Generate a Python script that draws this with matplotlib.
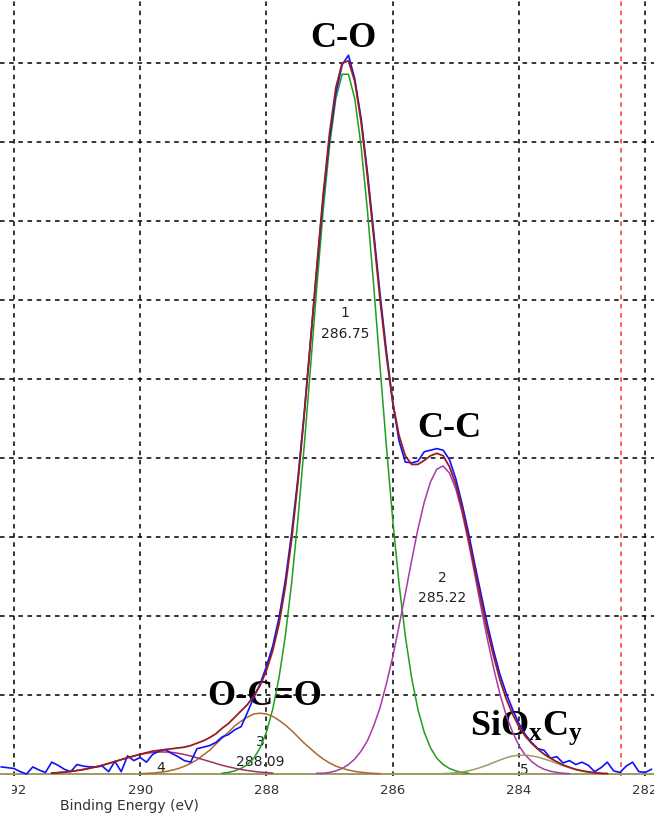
import numpy as np
import matplotlib
matplotlib.use('Agg')
import matplotlib.pyplot as plt
from matplotlib.transforms import Bbox

plt.rcParams['mathtext.default'] = 'regular'

# XPS C1s spectrum, binding energy step 0.1 eV, intensity in grid units
step = 0.1

raw_start = 292.2
raw = [0.09, 0.08, 0.07, 0.03, 0.00, 0.09, 0.05, 0.02, 0.15, 0.11,
       0.06, 0.03, 0.12, 0.10, 0.09, 0.09, 0.10, 0.03, 0.16, 0.03,
       0.23, 0.17, 0.21, 0.15, 0.25, 0.29, 0.31, 0.26, 0.22, 0.17,
       0.15, 0.32, 0.34, 0.36, 0.40, 0.47, 0.50, 0.56, 0.60, 0.78,
       0.97, 1.14, 1.36, 1.62, 1.98, 2.45, 3.05, 3.75, 4.58, 5.50,
       6.40, 7.30, 8.05, 8.62, 8.98, 9.10, 8.80, 8.30, 7.62, 6.86,
       6.08, 5.36, 4.72, 4.22, 3.95, 3.94, 3.96, 4.08, 4.10, 4.12,
       4.10, 3.98, 3.74, 3.42, 3.06, 2.66, 2.28, 1.90, 1.56, 1.26,
       1.02, 0.82, 0.64, 0.50, 0.40, 0.32, 0.30, 0.20, 0.22, 0.14,
       0.17, 0.12, 0.15, 0.11, 0.03, 0.08, 0.15, 0.04, 0.02, 0.10,
       0.15, 0.03, 0.02, 0.06]

env_start = 291.4
envelope = [0.012, 0.017, 0.024, 0.033, 0.044, 0.057, 0.073, 0.091, 0.11, 0.134,
            0.158, 0.182, 0.206, 0.228, 0.25, 0.27, 0.29, 0.30, 0.31, 0.32,
            0.33, 0.34, 0.36, 0.39, 0.42, 0.46, 0.51, 0.58, 0.64, 0.72,
            0.80, 0.88, 0.99, 1.12, 1.31, 1.56, 1.90, 2.37, 2.97, 3.70,
            4.55, 5.48, 6.44, 7.34, 8.11, 8.69, 9.00, 9.03, 8.77, 8.26,
            7.57, 6.80, 6.01, 5.30, 4.71, 4.29, 4.03, 3.92, 3.92, 3.97,
            4.03, 4.06, 4.03, 3.89, 3.67, 3.36, 2.99, 2.59, 2.20, 1.82,
            1.49, 1.19, 0.95, 0.76, 0.60, 0.48, 0.39, 0.315, 0.25, 0.20,
            0.155, 0.115, 0.085, 0.058, 0.04, 0.026, 0.016, 0.009, 0.005]

# fitted components: (start energy, values)
p1_start = 288.7
p1 = [0.01, 0.02, 0.04, 0.07, 0.12, 0.20, 0.33, 0.53, 0.82, 1.22,
      1.75, 2.42, 3.23, 4.16, 5.16, 6.18, 7.14, 7.95, 8.55, 8.86,
      8.86, 8.55, 7.95, 7.14, 6.18, 5.16, 4.16, 3.23, 2.42, 1.75,
      1.22, 0.82, 0.53, 0.33, 0.20, 0.12, 0.07, 0.04, 0.02, 0.01]
p2_start = 287.2
p2 = [0.01, 0.01, 0.02, 0.04, 0.07, 0.12, 0.19, 0.29, 0.42, 0.61,
      0.84, 1.14, 1.48, 1.87, 2.28, 2.70, 3.10, 3.44, 3.70, 3.86,
      3.90, 3.81, 3.61, 3.31, 2.94, 2.53, 2.11, 1.71, 1.34, 1.01,
      0.74, 0.53, 0.36, 0.24, 0.16, 0.10, 0.06, 0.035, 0.02, 0.01, 0.005]
p3_start = 290.0
p3 = [0.004, 0.008, 0.012, 0.02, 0.031, 0.047, 0.068, 0.097, 0.135, 0.18,
      0.24, 0.30, 0.38, 0.455, 0.53, 0.61, 0.67, 0.72, 0.76, 0.77,
      0.76, 0.73, 0.68, 0.62, 0.55, 0.47, 0.39, 0.32, 0.25, 0.19,
      0.14, 0.10, 0.073, 0.05, 0.033, 0.022, 0.014, 0.008, 0.005]
p4_start = 291.4
p4 = [0.012, 0.017, 0.024, 0.033, 0.044, 0.057, 0.073, 0.091, 0.11, 0.134,
      0.158, 0.182, 0.206, 0.228, 0.247, 0.263, 0.274, 0.279, 0.279, 0.274,
      0.263, 0.247, 0.228, 0.206, 0.182, 0.158, 0.134, 0.11, 0.091, 0.073,
      0.057, 0.044, 0.033, 0.024, 0.017, 0.012]
p5_start = 285.2
p5 = [0.005, 0.009, 0.016, 0.026, 0.04, 0.06, 0.085, 0.114, 0.146, 0.177,
      0.206, 0.227, 0.239, 0.239, 0.23, 0.215, 0.19, 0.165, 0.135, 0.105,
      0.08, 0.058, 0.04, 0.026, 0.016, 0.009, 0.005]

peak_ids = ['1', '2', '3', '4', '5']
peak_pos = [286.75, 285.22, 288.09, 289.68, 283.92]
peak_names = ['286.75', '285.22', '288.09', '', '']

xticks = [292, 290, 288, 286, 284, 282]
marker_line = 282.38


def energies(start, vals):
    return start - step * np.arange(len(vals))


fig = plt.figure(figsize=(6.54, 8.19), dpi=100)
ax = fig.add_axes([0, 0.053, 1, 0.947])

comp_colors = ['#1e9e1e', '#a83aa8', '#a8682e', '#a0306a', '#9c9c60']
for start, vals, c in zip([p1_start, p2_start, p3_start, p4_start, p5_start],
                          [p1, p2, p3, p4, p5], comp_colors):
    ax.plot(energies(start, vals), vals, color=c, lw=1.1, zorder=3)

ax.axhline(0, color='#9c9c60', lw=1.4, zorder=2.5)
ax.plot(energies(raw_start, raw), raw, color='#1010ff', lw=1.2, zorder=4)
ax.plot(energies(env_start, envelope), envelope, color='#961e1e', lw=1.3, zorder=5)

ax.axvline(marker_line, color='#ff3030', lw=1.1, ls=(0, (3, 3)), zorder=1)

# small peak labels
for pid, x, name, y1, y2 in zip(peak_ids, peak_pos, peak_names,
                                [5.84, 2.48, 0.41, 0.08, 0.05],
                                [5.57, 2.23, 0.15, 0, 0]):
    ax.text(x, y1, pid, ha='center', va='center', fontsize=10, color='#222222', zorder=2)
    if name:
        ax.text(x, y2, name, ha='center', va='center', fontsize=10, color='#222222', zorder=2)

big = dict(family='Liberation Serif', fontweight='bold', fontsize=26, color='black', zorder=2)
ax.text(286.78, 9.2, 'C-O', ha='center', va='baseline', **big)
ax.text(285.11, 4.27, 'C-C', ha='center', va='baseline', **big)
ax.text(288.03, 0.87, 'O-C=O', ha='center', va='baseline', **big)
ax.text(284.78, 0.49, 'SiO$_x$C$_y$', ha='left', va='baseline', **big)

ax.set_xlim(292.22, 281.86)
ax.set_ylim(-0.02, 9.8)
ax.set_xticks(xticks)
ax.set_xticklabels([str(t) for t in xticks])
ax.set_yticks(range(1, 10))
ax.tick_params(axis='both', length=0, labelsize=9.5, labelcolor='#333333', pad=6)
ax.tick_params(axis='y', labelleft=False)
ax.grid(True, color='black', lw=1.1, ls=(0, (3, 3)))
ax.set_axisbelow(True)
for s in ax.spines.values():
    s.set_visible(False)

# left part of the first tick label is cut off in the original
lab0 = ax.get_xticklabels()[0]
lab0.set_clip_box(Bbox.from_extents(12, 0, 654, 819))
lab0.set_clip_on(True)

fig.text(60 / 654, 1 - 806 / 819, 'Binding Energy (eV)', ha='left', va='center',
         fontsize=10, color='#333333')

fig.savefig('out.png', dpi=100, facecolor='white')
